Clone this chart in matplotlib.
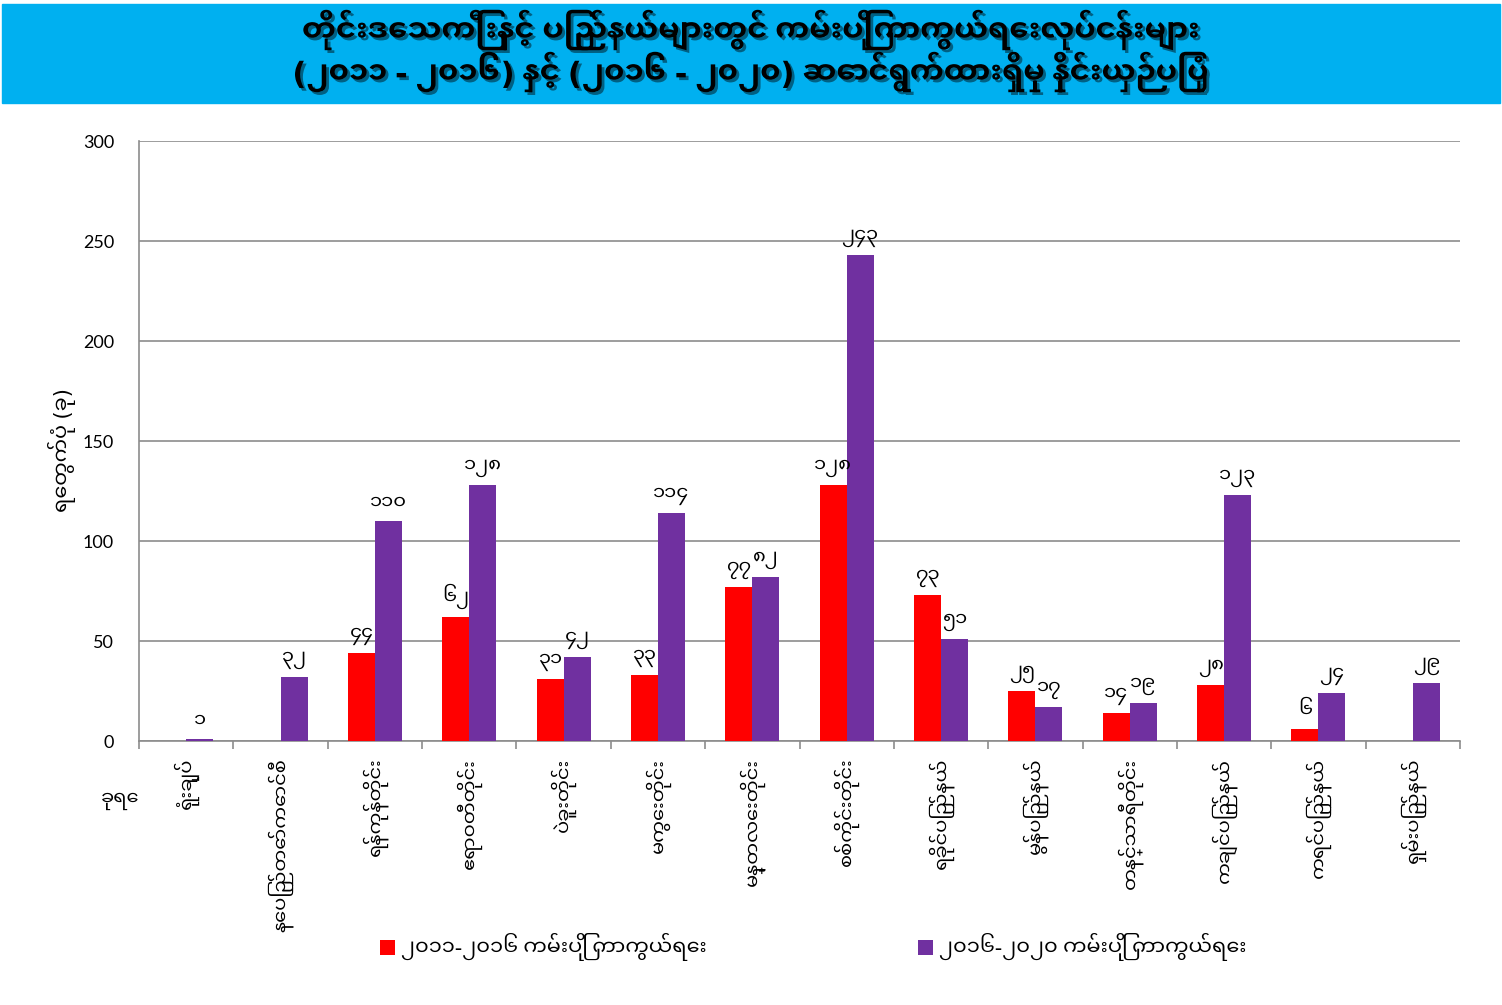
import numpy as np
import matplotlib
matplotlib.use("Agg")
import matplotlib.pyplot as plt
import matplotlib.patheffects as pe
from matplotlib.patches import Rectangle

# data
title_line1 = "တိုင်းဒေသကြီးနှင့် ပြည်နယ်များတွင် ကမ်းပြိုကာကွယ်ရေးလုပ်ငန်းများ"
title_line2 = "(၂၀၁၁ - ၂၀၁၆) နှင့် (၂၀၁၆ - ၂၀၂၀) ဆောင်ရွက်ထားရှိမှု နှိုင်းယှဉ်ပြပုံ"
ylabel = "ရေတွက်ပုံ (ခု)"
corner_label = "ခုရေ"

regions = [
    "ရုံးချုပ်", "နေပြည်တော်ကောင်စီ", "ရန်ကုန်တိုင်း", "ဧရာဝတီတိုင်း",
    "ပဲခူးတိုင်း", "မကွေးတိုင်း", "မန္တလေးတိုင်း", "စစ်ကိုင်းတိုင်း",
    "ရခိုင်ပြည်နယ်", "မွန်ပြည်နယ်", "တနင်္သာရီတိုင်း", "ကချင်ပြည်နယ်",
    "ကရင်ပြည်နယ်", "ရှမ်းပြည်နယ်",
]
series_names = ["၂၀၁၁-၂၀၁၆ ကမ်းပြို ကာကွယ်ရေး", "၂၀၁၆-၂၀၂၀ ကမ်းပြို ကာကွယ်ရေး"]
works_2011_2016 = [None, None, 44, 62, 31, 33, 77, 128, 73, 25, 14, 28, 6, None]
works_2016_2020 = [1, 32, 110, 128, 42, 114, 82, 243, 51, 17, 19, 123, 24, 29]
yticks = [0, 50, 100, 150, 200, 250, 300]

RED = "#FF0000"
PURPLE = "#7030A0"
BANNER = "#00B0F0"
GRID = "#8C8C8C"

plt.rcParams['font.family'] = ['Noto Sans Myanmar UI', 'DejaVu Sans']

mm_digits = str.maketrans("0123456789", "၀၁၂၃၄၅၆၇၈၉")

def to_mm(v):
    return str(v).translate(mm_digits)

fig = plt.figure(figsize=(15.02, 10.05), dpi=100)

# title banner
fig.patches.append(Rectangle((2 / 1502, 1 - 103 / 1005), 1498 / 1502, 99 / 1005,
                             transform=fig.transFigure, color=BANNER, zorder=0))
shadow = [pe.SimplePatchShadow(offset=(2, -2), alpha=0.45), pe.Normal()]
for txt, yy in [(title_line1, 30), (title_line2, 72)]:
    fig.text(0.5, 1 - yy / 1005, txt, ha='center', va='center', fontsize=22,
             fontweight='bold', color='black', path_effects=shadow)

ax = fig.add_axes([139 / 1502, 1 - 741 / 1005, (1460 - 139) / 1502, 600 / 1005])

x = np.arange(len(regions))
w = 0.286
red_idx = [i for i, v in enumerate(works_2011_2016) if v is not None]
red_vals = [works_2011_2016[i] for i in red_idx]
ax.bar(x[red_idx] - w / 2, red_vals, width=w, color=RED, zorder=3, label=series_names[0])
ax.bar(x + w / 2, works_2016_2020, width=w, color=PURPLE, zorder=3, label=series_names[1])

for i, v in zip(red_idx, red_vals):
    ax.annotate(to_mm(v), (x[i] - w / 2, v), xytext=(0, 6), textcoords='offset points',
                ha='center', va='bottom', fontsize=14)
for i, v in enumerate(works_2016_2020):
    ax.annotate(to_mm(v), (x[i] + w / 2, v), xytext=(0, 6), textcoords='offset points',
                ha='center', va='bottom', fontsize=14)

ax.set_xlim(-0.5, len(regions) - 0.5)
ax.set_ylim(0, 300)
ax.set_yticks(yticks)
ax.set_yticklabels([str(t) for t in yticks], fontsize=13, family='Lato')
ax.yaxis.grid(True, color=GRID, linewidth=1.2, zorder=0)
ax.tick_params(axis='y', length=0, pad=18)

ax.set_xticks(x)
ax.set_xticklabels(regions, rotation=90, va='top', ha='center', fontsize=14)
ax.tick_params(axis='x', which='major', length=0, pad=12)
ax.set_xticks(np.arange(-0.5, len(regions), 1), minor=True)
ax.tick_params(axis='x', which='minor', length=6, color=GRID, width=1.2)

for s in ['top', 'right']:
    ax.spines[s].set_visible(False)
for s in ['left', 'bottom']:
    ax.spines[s].set_color(GRID)
    ax.spines[s].set_linewidth(1.2)

fig.text(62 / 1502, 1 - 450 / 1005, ylabel, rotation=90, ha='center', va='center', fontsize=15)
fig.text(120 / 1502, 1 - 800 / 1005, corner_label, ha='center', va='center', fontsize=14)

handles, labels = ax.get_legend_handles_labels()
for h, lab, xx in zip(handles, labels, [372, 910]):
    fig.legend([h], [lab], loc='center left', bbox_to_anchor=(xx / 1502, 1 - 947 / 1005),
               frameon=False, fontsize=15, handlelength=0.7, handleheight=0.7,
               handletextpad=0.3, borderaxespad=0)

fig.savefig("out.png", dpi=100)
